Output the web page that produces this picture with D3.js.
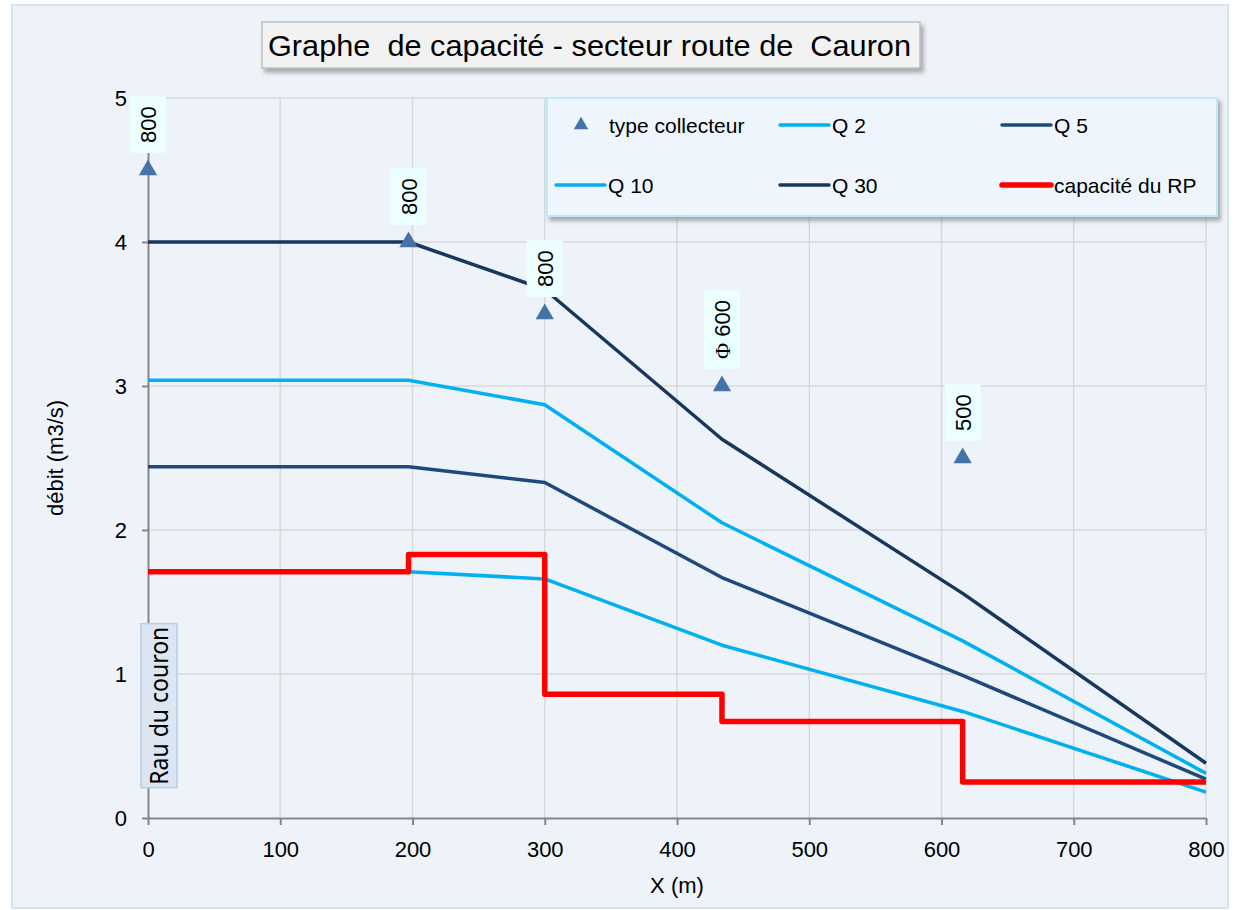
<!DOCTYPE html>
<html>
<head>
<meta charset="utf-8">
<script src="https://cdn.jsdelivr.net/npm/d3@7"></script>
<style>
  body { margin: 0; background: #fff; }
  text { font-family: "Liberation Sans", Arial, sans-serif; fill: #000; }
</style>
</head>
<body>
<svg id="chart" width="1238" height="910"></svg>
<script>
// distances along the network (m)
var xs = [0, 197, 300, 434, 616, 800];
// flows (m3/s)
var q2 = [1.71, 1.71, 1.66, 1.20, 0.74, 0.18];
var q5 = [2.44, 2.44, 2.33, 1.67, 0.99, 0.27];
var q10 = [3.04, 3.04, 2.87, 2.05, 1.23, 0.31];
var q30 = [4.00, 4.00, 3.67, 2.63, 1.56, 0.38];
// pipe capacity, step after each section
var capacity = [1.71, 1.83, 0.86, 0.67, 0.25, 0.25];
// collector type markers
var typeX = [0, 197, 300, 434, 616];
var typeY = [4.5, 4.0, 3.5, 3.0, 2.5];
var typeLabels = ['800', '800', '800', 'Φ 600', '500'];
var xTicks = [0, 100, 200, 300, 400, 500, 600, 700, 800];
var yTicks = [0, 1, 2, 3, 4, 5];

var colors = {
  q2: '#00B0F0', q5: '#1F497D', q10: '#00B0F0', q30: '#17375E',
  cap: '#FF0000', marker: '#4572A7'
};

var svg = d3.select('#chart');
var defs = svg.append('defs');
var shadow = defs.append('filter').attr('id', 'shadow')
  .attr('x', '-5%').attr('y', '-10%').attr('width', '115%').attr('height', '130%');
shadow.append('feDropShadow')
  .attr('dx', 3).attr('dy', 4).attr('stdDeviation', 2)
  .attr('flood-color', '#777').attr('flood-opacity', 0.6);

// chart area
svg.append('rect')
  .attr('x', 12).attr('y', 5).attr('width', 1216).attr('height', 903)
  .attr('fill', '#EEF3FA').attr('stroke', '#D5E3F0').attr('stroke-width', 2);

var x = d3.scaleLinear().domain([0, 800]).range([148, 1206]);
var y = d3.scaleLinear().domain([0, 5]).range([818, 98]);

// grid
var grid = svg.append('g').attr('class', 'grid');
grid.selectAll('line.v').data(xTicks.slice(1)).enter()
  .append('line').attr('class', 'v')
  .attr('x1', function(d) { return x(d); }).attr('x2', function(d) { return x(d); })
  .attr('y1', y(0)).attr('y2', y(5))
  .attr('stroke', '#D9D9D9').attr('stroke-width', 1.5);
grid.selectAll('line.h').data(yTicks.slice(1)).enter()
  .append('line').attr('class', 'h')
  .attr('x1', x(0)).attr('x2', x(800))
  .attr('y1', function(d) { return y(d); }).attr('y2', function(d) { return y(d); })
  .attr('stroke', '#D9D9D9').attr('stroke-width', 1.5);

// axes
var yAxis = svg.append('g').attr('transform', 'translate(' + x(0) + ',0)')
  .call(d3.axisLeft(y).tickValues(yTicks).tickFormat(d3.format('d'))
    .tickSize(6).tickPadding(15).tickSizeOuter(0));
var xAxis = svg.append('g').attr('transform', 'translate(0,' + y(0) + ')')
  .call(d3.axisBottom(x).tickValues(xTicks).tickFormat(d3.format('d'))
    .tickSize(7).tickPadding(16).tickSizeOuter(0));
[xAxis, yAxis].forEach(function(ax) {
  ax.select('.domain').attr('stroke', '#868686').attr('stroke-width', 2);
  ax.selectAll('.tick line').attr('stroke', '#868686').attr('stroke-width', 2);
  ax.selectAll('.tick text').attr('font-size', 22)
    .style('font-family', '"Liberation Sans", Arial, sans-serif').attr('fill', '#000');
});

svg.append('text').attr('x', 677).attr('y', 893).attr('text-anchor', 'middle')
  .attr('font-size', 22).text('X (m)');
svg.append('text')
  .attr('transform', 'translate(63,458) rotate(-90)')
  .attr('text-anchor', 'middle').attr('font-size', 22).text('débit (m3/s)');

// flow lines
var line = d3.line()
  .x(function(d) { return x(d[0]); })
  .y(function(d) { return y(d[1]); });
var series = [
  {key: 'q2', values: q2},
  {key: 'q5', values: q5},
  {key: 'q10', values: q10},
  {key: 'q30', values: q30}
];
svg.append('g').selectAll('path').data(series).enter()
  .append('path')
  .attr('d', function(s) { return line(d3.zip(xs, s.values)); })
  .attr('fill', 'none')
  .attr('stroke', function(s) { return colors[s.key]; })
  .attr('stroke-width', 3.5)
  .attr('stroke-linejoin', 'round');

// capacity step line
var step = d3.line()
  .x(function(d) { return x(d[0]); })
  .y(function(d) { return y(d[1]); })
  .curve(d3.curveStepAfter);
svg.append('path')
  .attr('d', step(d3.zip(xs, capacity)))
  .attr('fill', 'none')
  .attr('stroke', colors.cap)
  .attr('stroke-width', 5.5)
  .attr('stroke-linejoin', 'round');

// "Rau du couron" annotation
var rau = svg.append('g').attr('transform', 'translate(' + (x(0) + 11) + ',' + y(0.78) + ')');
rau.append('rect').attr('x', -18).attr('y', -82).attr('width', 36).attr('height', 164)
  .attr('fill', '#DCE6F2').attr('stroke', '#B9CDE5').attr('stroke-width', 1.5);
rau.append('text').attr('transform', 'rotate(-90)')
  .attr('x', 0).attr('y', 9).attr('text-anchor', 'middle')
  .style('font-family', '"Noto Sans", "Open Sans", sans-serif')
  .attr('font-size', 25).attr('textLength', 158).attr('lengthAdjust', 'spacingAndGlyphs')
  .text('Rau du couron');

// collector markers + labels
var tri = d3.symbol().type(d3.symbolTriangle).size(145);
var markers = svg.append('g').selectAll('g').data(d3.zip(typeX, typeY, typeLabels)).enter()
  .append('g')
  .attr('transform', function(d) { return 'translate(' + x(d[0]) + ',' + y(d[1]) + ')'; });
markers.append('path').attr('d', tri).attr('fill', colors.marker);
markers.each(function(d) {
  var g = d3.select(this);
  var box = g.append('rect');
  var t = g.append('text').attr('transform', 'rotate(-90)')
    .attr('x', 27).attr('y', 8).attr('font-size', 22);
  var parts = d[2].split(' ');
  if (parts.length > 1) {
    t.append('tspan').style('font-family', '"Liberation Serif", "Times New Roman", serif').text(parts[0]);
    t.append('tspan').text(' ' + parts[1]);
  } else {
    t.text(d[2]);
  }
  var len = t.node().getComputedTextLength();
  box.attr('x', -18).attr('width', 36)
    .attr('y', -17 - len - 20).attr('height', len + 20)
    .attr('fill', '#EBFFFF');
});

// legend
var legendItems = [
  {name: 'type collecteur', kind: 'marker', color: colors.marker},
  {name: 'Q 2', kind: 'line', color: colors.q2, w: 3.5},
  {name: 'Q 5', kind: 'line', color: colors.q5, w: 3.5},
  {name: 'Q 10', kind: 'line', color: colors.q10, w: 3.5},
  {name: 'Q 30', kind: 'line', color: colors.q30, w: 3.5},
  {name: 'capacité du RP', kind: 'line', color: colors.cap, w: 5.5}
];
var colX = [556, 780, 1002];
var rowY = [125, 185];
var legend = svg.append('g');
legend.append('rect')
  .attr('x', 547).attr('y', 98).attr('width', 670).attr('height', 118)
  .attr('fill', '#EFF5FC').attr('stroke', '#BDEAF8').attr('stroke-width', 2)
  .attr('filter', 'url(#shadow)');
var li = legend.selectAll('g.item').data(legendItems).enter()
  .append('g').attr('class', 'item')
  .attr('transform', function(d, i) { return 'translate(' + colX[i % 3] + ',' + rowY[Math.floor(i / 3)] + ')'; });
li.each(function(d) {
  var g = d3.select(this);
  if (d.kind === 'marker') {
    g.append('path').attr('d', d3.symbol().type(d3.symbolTriangle).size(90))
      .attr('transform', 'translate(25,0)').attr('fill', d.color);
    g.append('text').attr('x', 53).attr('y', 8).attr('font-size', 21).text(d.name);
  } else {
    g.append('line').attr('x1', 0).attr('x2', 49).attr('y1', 0).attr('y2', 0)
      .attr('stroke', d.color).attr('stroke-width', d.w).attr('stroke-linecap', 'round');
    g.append('text').attr('x', 52).attr('y', 8).attr('font-size', 21).text(d.name);
  }
});

// title
var title = svg.append('g');
title.append('rect')
  .attr('x', 262).attr('y', 22).attr('width', 658).attr('height', 46)
  .attr('fill', '#F2F2F2').attr('stroke', '#BFBFBF').attr('stroke-width', 1.5)
  .attr('filter', 'url(#shadow)');
title.append('text')
  .attr('x', 268).attr('y', 56)
  .attr('font-size', 29)
  .attr('textLength', 643).attr('lengthAdjust', 'spacingAndGlyphs')
  .style('white-space', 'pre')
  .text('Graphe  de capacité - secteur route de  Cauron');
</script>
</body>
</html>
